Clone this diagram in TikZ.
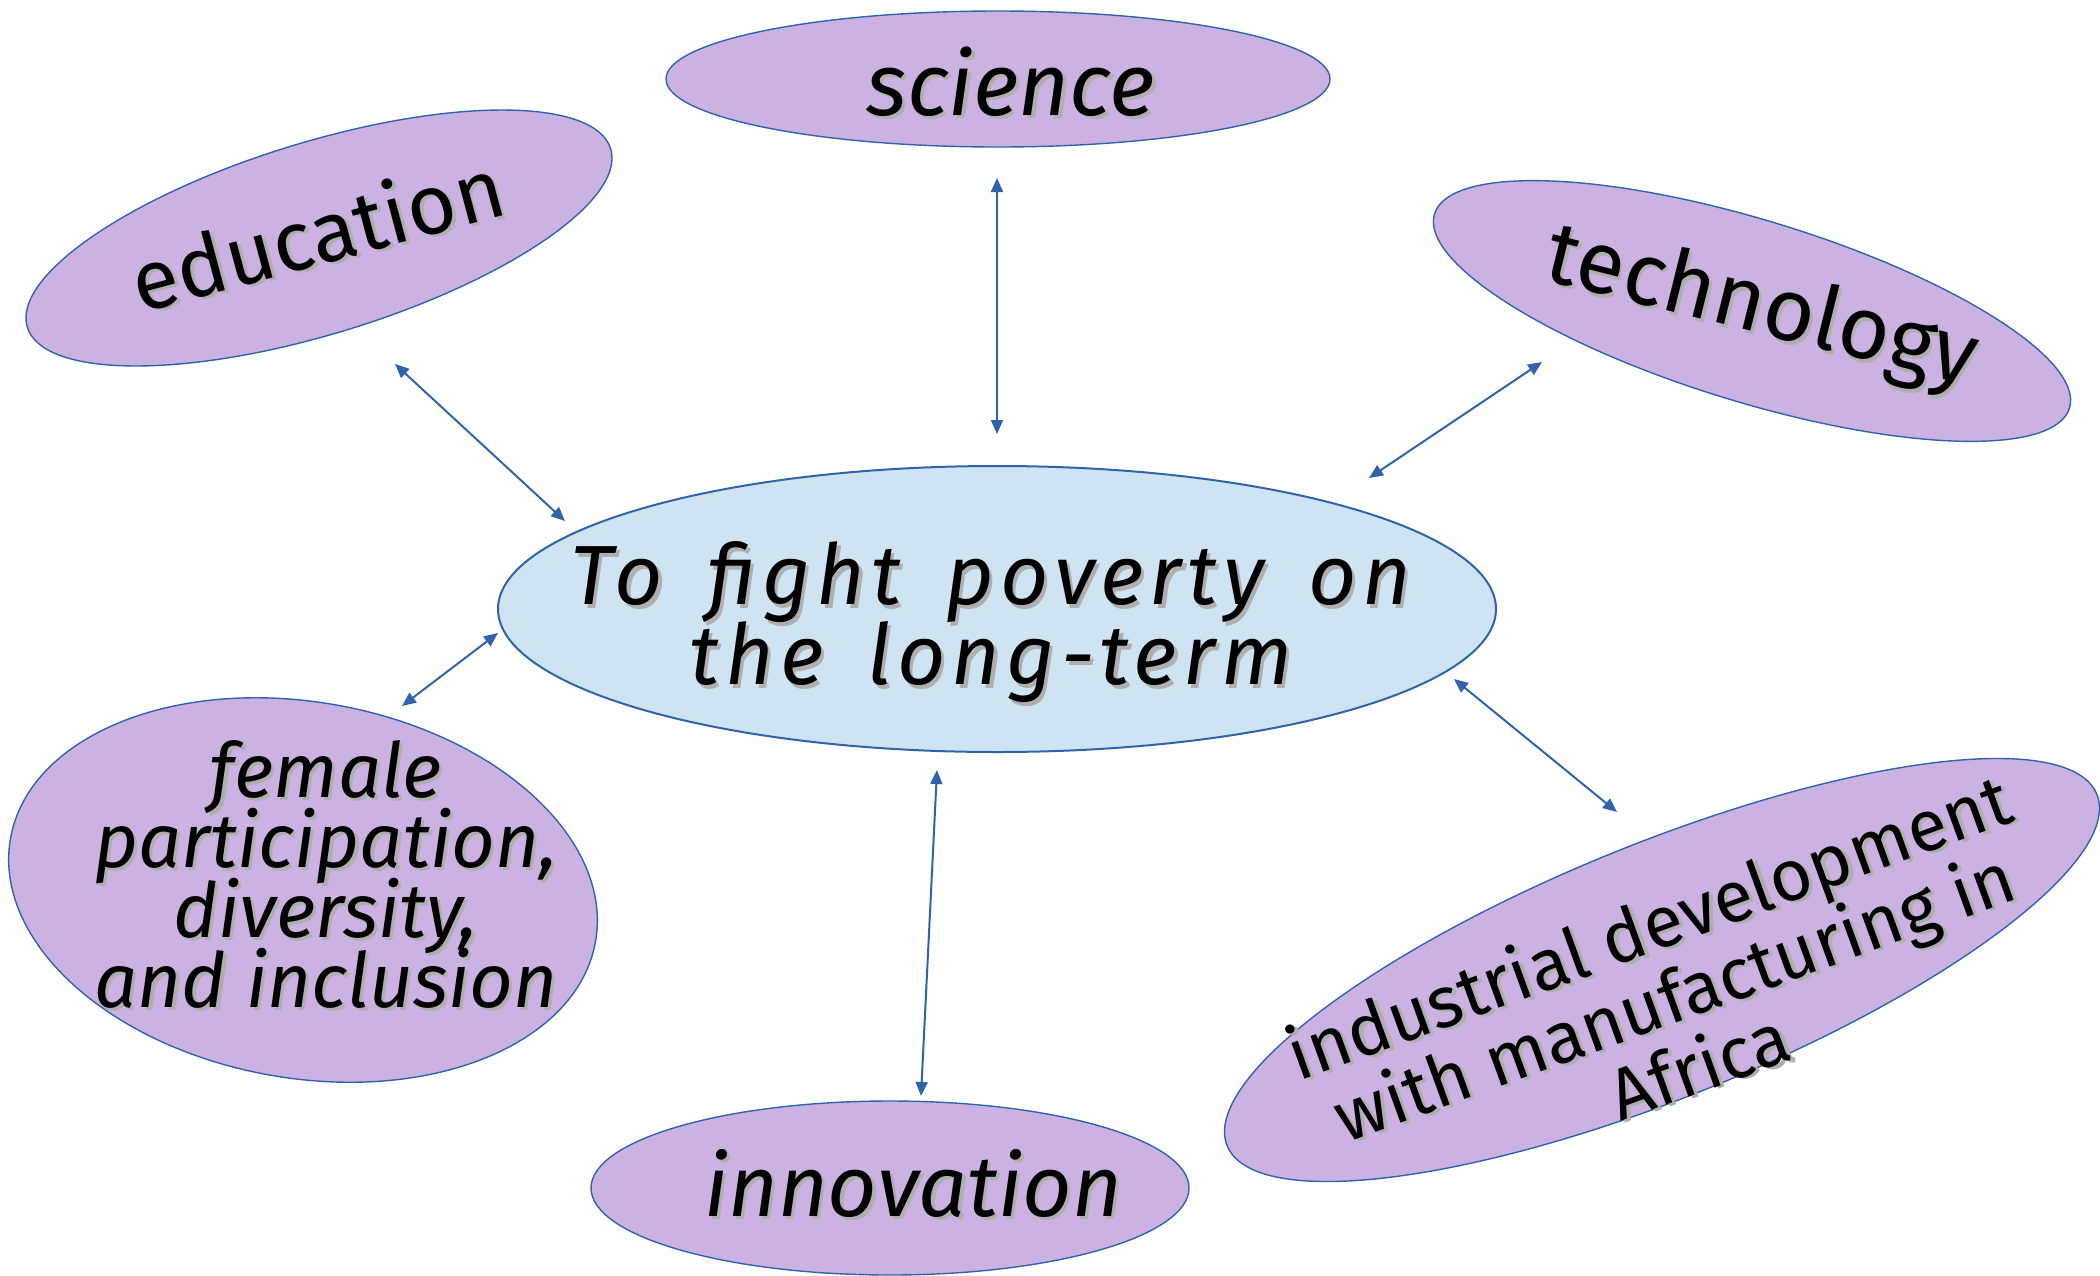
\documentclass[tikz,border=0pt]{standalone}
\usepackage{fontspec}
\setmainfont{Fira Sans}
\newfontfamily\corefont{Fira Sans}[LetterSpace=7,WordSpace=1.6]
\usepackage{tikz}
\usetikzlibrary{shapes.geometric,arrows.meta}
\definecolor{bubblefill}{RGB}{204,178,227}
\definecolor{corefill}{RGB}{207,228,243}
\definecolor{edgeblue}{RGB}{49,99,170}
\definecolor{shadowgray}{RGB}{175,175,175}
\setlength{\lineskiplimit}{-100pt}
\newcommand{\shd}[1]{\leavevmode\rlap{\kern1.6pt\raisebox{-1.6pt}{\textcolor{shadowgray}{#1}}}#1}

\begin{document}
\begin{tikzpicture}[x=0.5pt,y=-0.5pt,
    bubble/.style={ellipse,draw=edgeblue,line width=0.7pt,fill=bubblefill,inner sep=0pt},
    core/.style={ellipse,draw=edgeblue,line width=1pt,fill=corefill,inner sep=0pt},
    word/.style={align=center,inner sep=0pt,font=\fontsize{44}{40}\selectfont},
    wordit/.style={align=center,inner sep=0pt,font=\itshape\fontsize{44}{40}\selectfont},
    link/.style={draw=edgeblue,line width=1pt,{Triangle[length=7pt,width=6pt]}-{Triangle[length=7pt,width=6pt]}}]
  \useasboundingbox (0,0) rectangle (2100,1275);

  % bubbles
  \node[bubble,minimum width=305pt,minimum height=96pt,rotate=17] (edu) at (319,238) {};
  \node[bubble,minimum width=332pt,minimum height=68pt] (sci) at (998,79) {};
  \node[bubble,minimum width=332pt,minimum height=91pt,rotate=-17] (tech) at (1752,311) {};
  \node[core,minimum width=499pt,minimum height=143pt] (core) at (997,609) {};
  \node[bubble,minimum width=297pt,minimum height=188pt,rotate=-10] (fem) at (303,890) {};
  \node[bubble,minimum width=299pt,minimum height=87pt] (inn) at (890,1188) {};
  \node[bubble,minimum width=469pt,minimum height=127pt,rotate=22] (ind) at (1662,970) {};

  % texts
  \node[word,rotate=15,font=\fontsize{42}{40}\selectfont] (edu-t) at (317,234) {\shd{education}};
  \node[wordit] (sci-t) at (1011,83) {\shd{science}};
  \node[word,rotate=-14] (tech-t) at (1761,311) {\shd{technology}};
  \node[wordit,font=\corefont\itshape\fontsize{42}{40}\selectfont] (core-t) at (991,624)
    {\shd{To fight poverty on}\\\shd{the long-term}};
  \node[wordit,font=\itshape\fontsize{38}{35}\selectfont] (fem-t) at (326,876)
    {\shd{female}\\\shd{participation,}\\\shd{diversity,}\\\shd{and inclusion}};
  \node[wordit,font=\itshape\fontsize{43}{40}\selectfont] (inn-t) at (913,1185) {\shd{innovation}};
  \node[word,rotate=20,font=\fontsize{36}{37}\selectfont] (ind-t) at (1674,996)
    {\shd{industrial development}\\\shd{with manufacturing in}\\\shd{Africa}};

  % arrows
  \coordinate (edu-a) at (395,364);   \coordinate (core-edu) at (565,521);
  \coordinate (sci-a) at (997,178);   \coordinate (core-sci) at (997,434);
  \coordinate (tech-a) at (1542,362); \coordinate (core-tech) at (1369,478);
  \coordinate (fem-a) at (402,706);   \coordinate (core-fem) at (498,633);
  \coordinate (inn-a) at (921,1096);  \coordinate (core-inn) at (937,770);
  \coordinate (ind-a) at (1617,812);  \coordinate (core-ind) at (1454,679);
  \draw[link] (edu-a) -- (core-edu);
  \draw[link] (sci-a) -- (core-sci);
  \draw[link] (tech-a) -- (core-tech);
  \draw[link] (fem-a) -- (core-fem);
  \draw[link] (inn-a) -- (core-inn);
  \draw[link] (ind-a) -- (core-ind);
\end{tikzpicture}
\end{document}
